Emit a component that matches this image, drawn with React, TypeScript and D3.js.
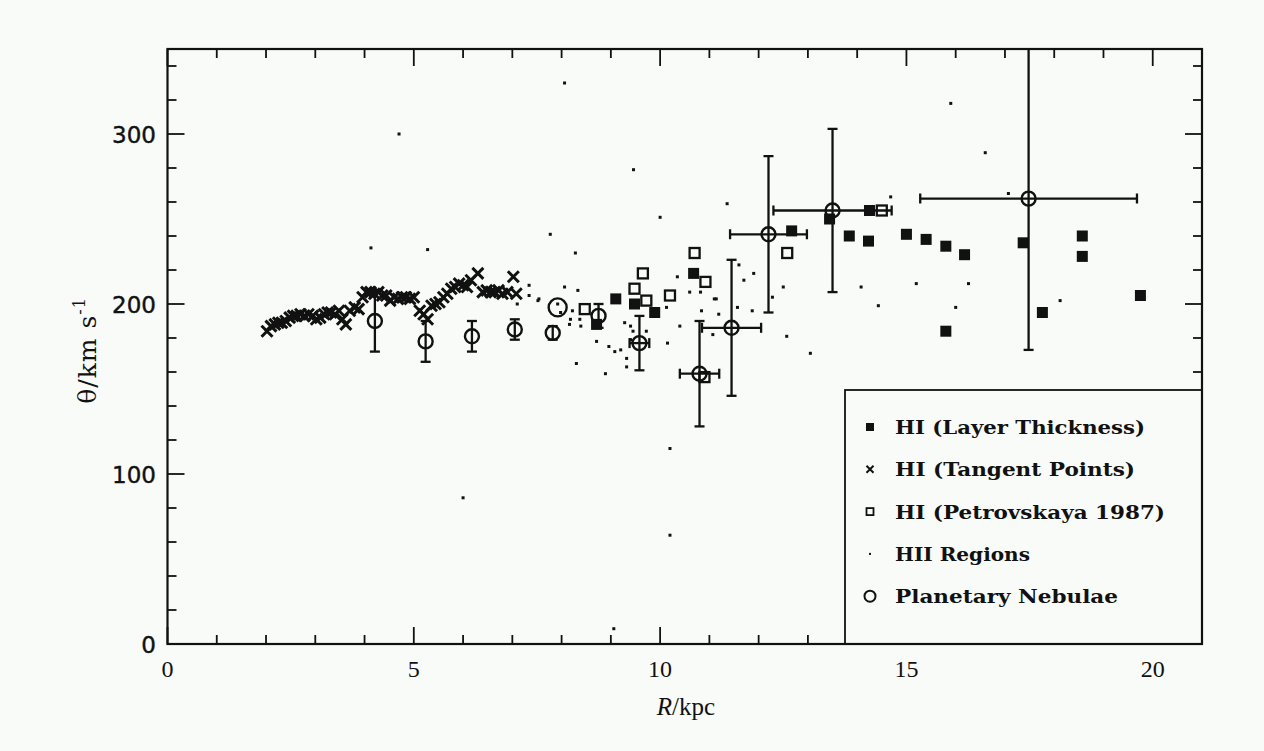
import React from "react";
import * as d3 from "d3";

// ---------- data ----------
const tangentR = [2.02, 2.1, 2.18, 2.25, 2.32, 2.4, 2.48, 2.55, 2.62, 2.7, 2.78, 2.86, 2.95, 3.02, 3.1, 3.18, 3.25, 3.32, 3.4, 3.48, 3.55, 3.62, 3.7, 3.8, 3.88, 3.96, 4.04, 4.12, 4.2, 4.28, 4.36, 4.44, 4.52, 4.6, 4.68, 4.76, 4.84, 4.92, 5.0, 5.12, 5.2, 5.28, 5.36, 5.44, 5.52, 5.6, 5.68, 5.76, 5.84, 5.92, 6.0, 6.08, 6.16, 6.3, 6.4, 6.48, 6.56, 6.64, 6.72, 6.8, 6.9, 7.02, 7.08];
const tangentV = [184, 187, 188, 189, 189, 190, 192, 193, 193, 194, 193, 194, 193, 191, 192, 194, 195, 195, 194, 196, 191, 188, 196, 198, 197, 204, 207, 207, 206, 207, 205, 205, 202, 204, 203, 204, 204, 203, 204, 196, 194, 191, 199, 200, 201, 204, 206, 209, 210, 212, 211, 210, 214, 218, 207, 208, 207, 207, 208, 206, 207, 216, 206];

const layerR = [8.71, 9.1, 9.48, 9.89, 10.68, 12.67, 13.44, 13.84, 14.23, 14.25, 15.0, 15.4, 15.8, 16.18, 15.8, 17.37, 17.76, 18.57, 18.57, 19.75];
const layerV = [188, 203, 200, 195, 218, 243, 250, 240, 237, 255, 241, 238, 234, 229, 184, 236, 195, 240, 228, 205];

const petroR = [8.47, 9.65, 9.48, 9.72, 10.2, 10.7, 10.92, 10.9, 12.58, 14.5];
const petroV = [197, 218, 209, 202, 205, 230, 213, 157, 230, 255];

const hiiR = [8.06, 4.7, 9.46, 10.0, 7.77, 8.28, 5.28, 4.13, 6.0, 10.2, 10.2, 9.06, 15.9, 16.6, 14.68, 11.36, 11.6, 11.9, 11.7, 11.1, 12.5, 12.28, 11.57, 11.87, 11.19, 11.07, 12.57, 13.05, 14.08, 14.43, 15.2, 16.26, 16.0, 17.07, 18.12, 7.34, 7.34, 7.54, 8.06, 8.33, 10.35, 10.6, 10.13, 10.84, 11.14, 8.22, 8.18, 8.37, 8.16, 8.39, 8.71, 8.96, 9.08, 9.2, 9.32, 9.32, 8.3, 8.89, 9.28, 9.4, 9.45, 9.4, 9.72, 10.15, 10.4, 10.82, 7.52, 7.1, 7.92, 7.98];
const hiiV = [330, 300, 279, 251, 241, 230, 232, 233, 86, 115, 64, 9, 318, 289, 263, 259, 223, 218, 214, 203, 210, 204, 198, 196, 194, 182, 181, 171, 210, 199, 212, 212, 198, 265, 202, 211, 205, 203, 210, 208, 216, 207, 198, 196, 203, 196, 191, 191, 188, 187, 178, 175, 172, 173, 168, 163, 165, 159, 189, 187, 184, 179, 184, 177, 187, 207, 202, 200, 200, 195];

const pnR = [4.21, 5.24, 6.18, 7.05, 7.82, 7.92, 8.75, 9.58, 10.8, 11.45, 12.2, 13.5, 17.48];
const pnV = [190, 178, 181, 185, 183, 198, 193, 177, 159, 186, 241, 255, 262];
const pnErrV = [18, 12, 9, 6, 4, 0, 7, 16, 31, 40, 46, 48, 89];
const pnErrR = [0, 0, 0, 0, 0, 0, 0, 0.2, 0.4, 0.6, 0.78, 1.2, 2.2];

const xTickLabels = [0, 5, 10, 15, 20];
const yTickLabels = [0, 100, 200, 300];

const legendLabels = ["HI (Layer Thickness)", "HI (Tangent Points)", "HI (Petrovskaya 1987)", "HII Regions", "Planetary Nebulae"];
const legendWidths = [250, 240, 270, 135, 223];

// ---------- layout ----------
const W = 1264, H = 751;
const x = d3.scaleLinear().domain([0, 21]).range([167.5, 1202]);
const y = d3.scaleLinear().domain([0, 350]).range([644, 49]);
const ink = "#111";
const bg = "#f8fbf8";

export default function App() {
  const xMinor = d3.range(0, 22, 1);
  const yMinor = d3.range(0, 351, 20);
  const majorLen = 17, minorLen = 9;
  const cap = 5;
  const legX = 845, legY = 390;

  const cross = (cx: number, cy: number, s: number, k: string, sw = 2) => (
    <path key={k} d={`M${cx - s},${cy - s}L${cx + s},${cy + s}M${cx - s},${cy + s}L${cx + s},${cy - s}`} stroke={ink} strokeWidth={sw} fill="none" />
  );

  return (
    <svg width={W} height={H} style={{ position: "absolute", left: 0, top: 0, background: bg }}>
      <defs>
        <clipPath id="plot">
          <rect x={x(0)} y={y(350)} width={x(21) - x(0)} height={y(0) - y(350)} />
        </clipPath>
      </defs>
      <rect x={0} y={0} width={W} height={H} fill={bg} />

      {/* ticks */}
      <g stroke={ink} strokeWidth={1.8}>
        {xMinor.map((v) => {
          const len = v % 5 === 0 ? majorLen : minorLen;
          return (
            <g key={"xt" + v}>
              <line x1={x(v)} x2={x(v)} y1={y(0)} y2={y(0) - len} />
              <line x1={x(v)} x2={x(v)} y1={y(350)} y2={y(350) + len} />
            </g>
          );
        })}
        {yMinor.map((v) => {
          const len = v % 100 === 0 ? majorLen : minorLen;
          return (
            <g key={"yt" + v}>
              <line x1={x(0)} x2={x(0) + len} y1={y(v)} y2={y(v)} />
              <line x1={x(21)} x2={x(21) - len} y1={y(v)} y2={y(v)} />
            </g>
          );
        })}
      </g>

      {/* data */}
      <g clipPath="url(#plot)">
        {hiiR.map((r, i) => (
          <rect key={"h" + i} x={x(r) - 1.5} y={y(hiiV[i]) - 1.5} width={3} height={3} fill={ink} />
        ))}
        {tangentR.map((r, i) => cross(x(r), y(tangentV[i]), 5.5, "t" + i, 3))}
        {layerR.map((r, i) => (
          <rect key={"l" + i} x={x(r) - 5.5} y={y(layerV[i]) - 5.5} width={11} height={11} fill={ink} />
        ))}
        {petroR.map((r, i) => (
          <rect key={"p" + i} x={x(r) - 5} y={y(petroV[i]) - 5} width={10} height={10} fill="none" stroke={ink} strokeWidth={2.3} />
        ))}
        {pnR.map((r, i) => {
          const cx = x(r), cy = y(pnV[i]);
          const ev = pnErrV[i], er = pnErrR[i];
          return (
            <g key={"pn" + i} stroke={ink} strokeWidth={2.3} fill="none">
              {ev > 0 && (
                <>
                  <line x1={cx} x2={cx} y1={y(pnV[i] + ev)} y2={y(pnV[i] - ev)} />
                  <line x1={cx - cap} x2={cx + cap} y1={y(pnV[i] + ev)} y2={y(pnV[i] + ev)} />
                  <line x1={cx - cap} x2={cx + cap} y1={y(pnV[i] - ev)} y2={y(pnV[i] - ev)} />
                </>
              )}
              {er > 0 && (
                <>
                  <line x1={x(r - er)} x2={x(r + er)} y1={cy} y2={cy} />
                  <line x1={x(r - er)} x2={x(r - er)} y1={cy - cap} y2={cy + cap} />
                  <line x1={x(r + er)} x2={x(r + er)} y1={cy - cap} y2={cy + cap} />
                </>
              )}
              <circle cx={cx} cy={cy} r={i === 5 ? 9 : 7} strokeWidth={2.4} />
            </g>
          );
        })}
      </g>

      {/* legend box */}
      <rect x={legX} y={legY} width={x(21) - legX} height={y(0) - legY} fill={bg} stroke={ink} strokeWidth={1.8} />
      {legendLabels.map((t, i) => {
        const cy = 427 + i * 42.3;
        const mx = 870;
        let marker;
        if (i === 0) marker = <rect x={mx - 4} y={cy - 4} width={8} height={8} fill={ink} />;
        else if (i === 1) marker = cross(mx, cy, 3.5, "lc", 2);
        else if (i === 2) marker = <rect x={mx - 3.5} y={cy - 3.5} width={7} height={7} fill="none" stroke={ink} strokeWidth={1.8} />;
        else if (i === 3) marker = <rect x={mx - 1} y={cy - 1} width={2} height={2} fill={ink} />;
        else marker = <circle cx={mx} cy={cy} r={5.5} fill="none" stroke={ink} strokeWidth={2} />;
        return (
          <g key={"lg" + i}>
            {marker}
            <text x={895} y={cy + 7} fontFamily="DejaVu Serif" fontWeight="bold" fontSize={18} fill={ink} textLength={legendWidths[i]} lengthAdjust="spacingAndGlyphs">
              {t}
            </text>
          </g>
        );
      })}

      {/* frame */}
      <rect x={x(0)} y={y(350)} width={x(21) - x(0)} height={y(0) - y(350)} fill="none" stroke={ink} strokeWidth={2.2} />

      {/* tick labels */}
      {xTickLabels.map((v) => (
        <text key={"xl" + v} x={x(v)} y={677} textAnchor="middle" fontFamily="Liberation Serif" fontSize={24} fill={ink}>
          {v}
        </text>
      ))}
      {yTickLabels.map((v) => (
        <text key={"yl" + v} x={156} y={y(v) + 8.5} textAnchor="end" fontFamily="DejaVu Sans" fontSize={23} fill={ink} stroke={ink} strokeWidth={0.4}>
          {v}
        </text>
      ))}

      {/* axis titles */}
      <text x={686} y={715} textAnchor="middle" fontFamily="Liberation Serif" fontSize={25} fill={ink}>
        <tspan fontStyle="italic">R</tspan>/kpc
      </text>
      <text transform={`translate(96, ${y(175) + 4}) rotate(-90)`} textAnchor="middle" fontFamily="DejaVu Serif" fontSize={25} fill={ink} letterSpacing={1}>
        θ/km s<tspan dy={-11} fontSize={16}>-1</tspan>
      </text>
    </svg>
  );
}
